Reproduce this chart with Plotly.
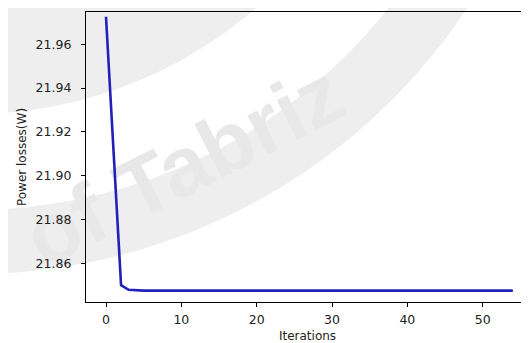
import plotly.graph_objects as go

# ---- data ----
iterations = list(range(0, 55))
power_losses = [
    21.9726, 21.9112, 21.8500, 21.8479, 21.8476,
    21.8475, 21.8475, 21.8475, 21.8475, 21.8475,
    21.8475, 21.8475, 21.8475, 21.8475, 21.8475,
    21.8475, 21.8475, 21.8475, 21.8475, 21.8475,
    21.8475, 21.8475, 21.8475, 21.8475, 21.8475,
    21.8475, 21.8475, 21.8475, 21.8475, 21.8475,
    21.8475, 21.8475, 21.8475, 21.8475, 21.8475,
    21.8475, 21.8475, 21.8475, 21.8475, 21.8475,
    21.8475, 21.8475, 21.8475, 21.8475, 21.8475,
    21.8475, 21.8475, 21.8475, 21.8475, 21.8475,
    21.8475, 21.8475, 21.8475, 21.8475, 21.8475,
]
x_ticks = [0, 10, 20, 30, 40, 50]
y_ticks = [21.86, 21.88, 21.90, 21.92, 21.94, 21.96]
x_title = "Iterations"
y_title = "Power losses(W)"
watermark = "of Tabriz"

# The page has an 8px body margin, so the figure is offset by OFF px.
OFF = 8
PAGE_W, PAGE_H = 529, 343
W, H = PAGE_W - OFF, PAGE_H - OFF
# desired plot box in page pixels: left 86, top 12, bottom 302, right 529
ML, MT, MR = 86 - OFF, 12 - OFF, 0
MB = H - (302 - OFF)
PW, PH = W - ML - MR, H - MT - MB


def px(xp):  # page pixel -> paper x
    return (xp - OFF - ML) / PW


def py(yp):  # page pixel -> paper y
    return (H - MB - (yp - OFF)) / PH


def circle(cx, cy, r, color):
    return dict(type="circle", xref="paper", yref="paper",
                x0=px(cx - r), x1=px(cx + r), y0=py(cy + r), y1=py(cy - r),
                fillcolor=color, line=dict(width=0), layer="below")


shapes = [
    circle(-28, -320, 594, "#eeeeee"),
    circle(-28, -320, 530, "#ffffff"),
    circle(-28, -320, 434, "#eeeeee"),
    dict(type="rect", xref="paper", yref="paper",
         x0=px(180 - 10), x1=px(180 + 10), y0=py(158 + 10), y1=py(158 - 10),
         line=dict(width=0), fillcolor="rgba(0,0,0,0)", layer="below",
         label=dict(text="<b>" + watermark + "</b>", textangle=-27,
                    textposition="middle center",
                    font=dict(family="Liberation Sans", size=84, color="#e8e8e8"))),
]

fig = go.Figure()
fig.add_trace(go.Scatter(
    x=iterations, y=power_losses, mode="lines",
    line=dict(color="#2121b8", width=2.6),
    showlegend=False, hoverinfo="skip",
))

fig.update_layout(
    width=W, height=H,
    margin=dict(l=ML, r=MR, t=MT, b=MB, pad=0, autoexpand=False),
    paper_bgcolor="white",
    plot_bgcolor="rgba(0,0,0,0)",
    font=dict(family="DejaVu Sans", size=12, color="#222222"),
    shapes=shapes,
    xaxis=dict(
        range=[(86 - 106) / 7.534, (529 - 106) / 7.534],
        tickvals=x_ticks, ticks="outside", ticklen=4, tickwidth=1, tickcolor="black",
        showline=True, linecolor="black", linewidth=1.3, mirror=True,
        showgrid=False, zeroline=False, automargin=False,
        tickfont=dict(size=12.5), ticklabelstandoff=2,
        title=dict(text=x_title, font=dict(size=12), standoff=8),
    ),
    yaxis=dict(
        range=[21.8423, 21.97475],
        tickvals=y_ticks, tickformat=".2f", ticks="outside", ticklen=4, tickwidth=1,
        tickcolor="black",
        showline=True, linecolor="black", linewidth=1.3, mirror=False,
        showgrid=False, zeroline=False, automargin=False,
        tickfont=dict(size=12.5), ticklabelstandoff=7,
        title=dict(text=y_title, font=dict(size=12), standoff=6),
    ),
)

fig.write_html("out.html")
